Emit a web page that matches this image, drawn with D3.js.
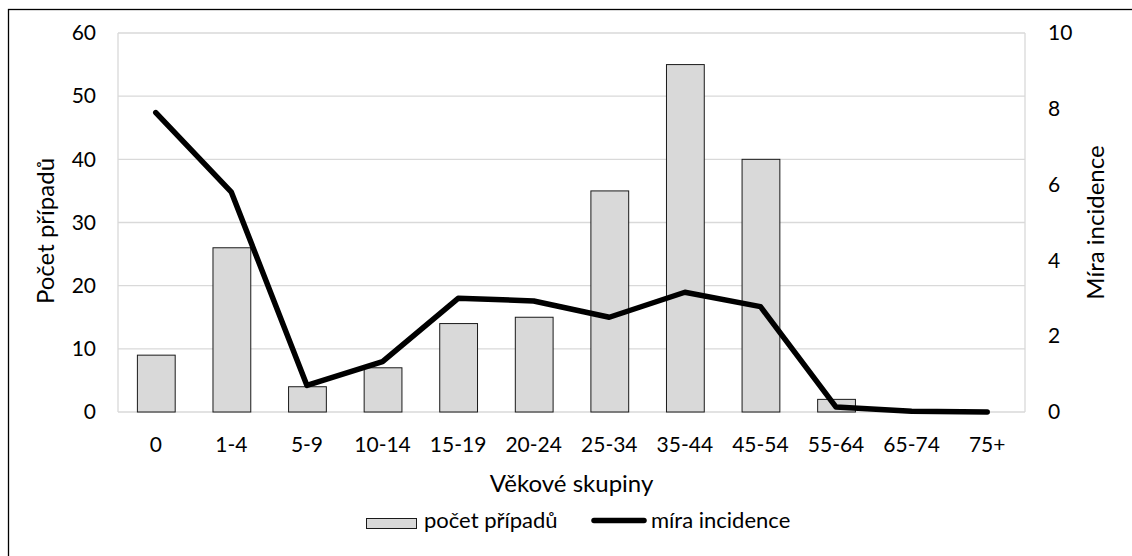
<!DOCTYPE html>
<html>
<head>
<meta charset="utf-8">
<script src="https://cdn.jsdelivr.net/npm/d3@7/dist/d3.min.js"></script>
<style>
  html, body { margin: 0; padding: 0; background: #fff; }
  svg { display: block; font-family: Lato, "Open Sans", sans-serif; }
</style>
</head>
<body>
<svg id="chart" width="1132" height="556"></svg>
<script>
// Age groups and the two series
const categories = ["0", "1-4", "5-9", "10-14", "15-19", "20-24", "25-34", "35-44", "45-54", "55-64", "65-74", "75+"];
const cases = [9, 26, 4, 7, 14, 15, 35, 55, 40, 2, 0, 0];
const incidence = [7.9, 5.8, 0.7, 1.33, 3.0, 2.93, 2.5, 3.16, 2.78, 0.13, 0.02, 0.0];
const leftTicks = [0, 10, 20, 30, 40, 50, 60];
const rightTicks = [0, 2, 4, 6, 8, 10];

const svg = d3.select("#chart");
const plot = { left: 118, right: 1025, top: 33, bottom: 412 };

// outer frame (runs off the right and bottom edges)
svg.append("rect")
  .attr("x", 8.5).attr("y", 9.5)
  .attr("width", 1300).attr("height", 700)
  .attr("fill", "none").attr("stroke", "#000").attr("stroke-width", 1.3);

const x = d3.scaleBand().domain(categories)
  .range([plot.left, plot.right]).paddingInner(0.5).paddingOuter(0.25);
const yL = d3.scaleLinear().domain([0, 60]).range([plot.bottom, plot.top]);
const yR = d3.scaleLinear().domain([0, 10]).range([plot.bottom, plot.top]);

// gridlines
svg.append("g").selectAll("line").data(leftTicks).join("line")
  .attr("x1", plot.left).attr("x2", plot.right)
  .attr("y1", d => yL(d)).attr("y2", d => yL(d))
  .attr("stroke", "#d9d9d9").attr("stroke-width", 1.3);
// plot side edges
[plot.left, plot.right].forEach(px => {
  svg.append("line").attr("x1", px).attr("x2", px)
    .attr("y1", plot.top).attr("y2", plot.bottom)
    .attr("stroke", "#d9d9d9").attr("stroke-width", 1.3);
});

// bars
svg.append("g").selectAll("rect").data(categories).join("rect")
  .attr("x", d => x(d) + 0.5)
  .attr("y", (d, i) => yL(cases[i]))
  .attr("width", x.bandwidth())
  .attr("height", (d, i) => yL(0) - yL(cases[i]))
  .attr("fill", "#d9d9d9")
  .attr("stroke", "#1a1a1a").attr("stroke-width", 1)
  .attr("display", (d, i) => cases[i] > 0 ? null : "none");

// incidence line
const line = d3.line()
  .x((d, i) => x(categories[i]) + x.bandwidth() / 2)
  .y(d => yR(d));
svg.append("path").datum(incidence)
  .attr("d", line)
  .attr("fill", "none").attr("stroke", "#000")
  .attr("stroke-width", 5.5)
  .attr("stroke-linejoin", "round").attr("stroke-linecap", "round");

// axes
const fontTick = 21;
const gl = svg.append("g").attr("transform", `translate(${plot.left - 22},0)`)
  .call(d3.axisLeft(yL).tickValues(leftTicks).tickSize(0).tickPadding(0));
const gr = svg.append("g").attr("transform", `translate(${plot.right + 23},0)`)
  .call(d3.axisRight(yR).tickValues(rightTicks).tickSize(0).tickPadding(0));
const gb = svg.append("g").attr("transform", `translate(0,${plot.bottom + 25})`)
  .call(d3.axisBottom(x).tickSize(0).tickPadding(0));
[gl, gr, gb].forEach(g => {
  g.select(".domain").remove();
  g.selectAll("text").attr("font-size", fontTick).attr("fill", "#000")
    .attr("font-family", "Lato, 'Open Sans', sans-serif");
});

// axis titles
svg.append("text")
  .attr("x", (plot.left + plot.right) / 2).attr("y", 492)
  .attr("text-anchor", "middle").attr("font-size", 24)
  .text("Věkové skupiny");
svg.append("text")
  .attr("transform", "translate(54,231) rotate(-90)")
  .attr("text-anchor", "middle").attr("font-size", 24)
  .text("Počet případů");
svg.append("text")
  .attr("transform", `translate(1104,${(plot.top + plot.bottom) / 2}) rotate(-90)`)
  .attr("text-anchor", "middle").attr("font-size", 24)
  .text("Míra incidence");

// legend
const lg = svg.append("g");
lg.append("rect").attr("x", 366.5).attr("y", 518.5).attr("width", 50).attr("height", 10)
  .attr("fill", "#d9d9d9").attr("stroke", "#1a1a1a").attr("stroke-width", 1);
lg.append("text").attr("x", 424).attr("y", 528).attr("font-size", 22).text("počet případů");
lg.append("line").attr("x1", 594).attr("x2", 644).attr("y1", 520.5).attr("y2", 520.5)
  .attr("stroke", "#000").attr("stroke-width", 5.5).attr("stroke-linecap", "round");
lg.append("text").attr("x", 651).attr("y", 528).attr("font-size", 22).text("míra incidence");
</script>
</body>
</html>
